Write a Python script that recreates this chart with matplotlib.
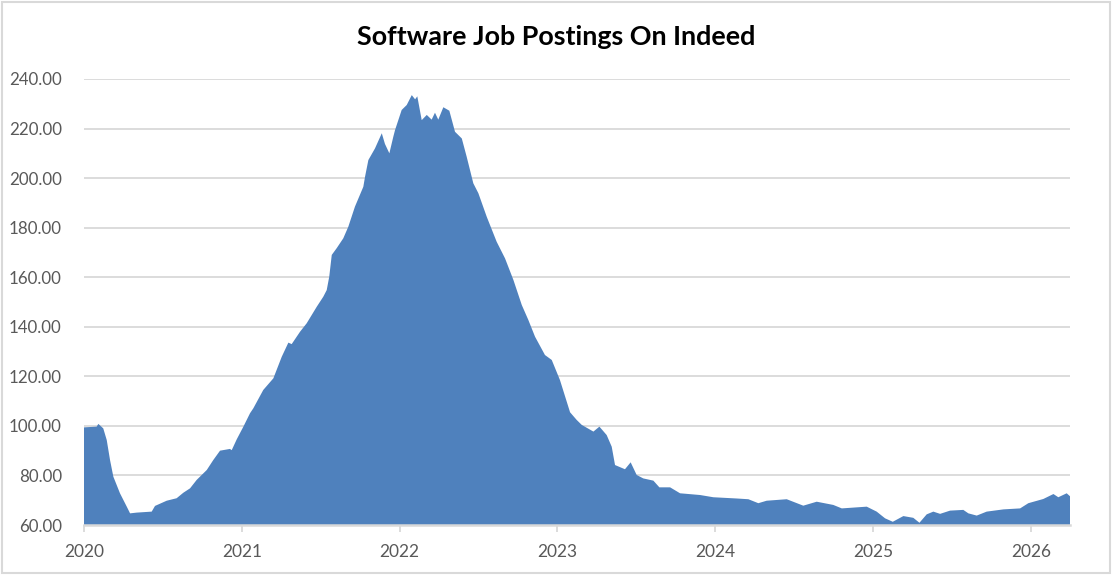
import matplotlib.pyplot as plt
from matplotlib.patches import Rectangle
from matplotlib.ticker import FormatStrFormatter

# decimal years and index values
years = [
    2020.000, 2020.080, 2020.091, 2020.122, 2020.144, 2020.165, 2020.186, 2020.228,
    2020.271, 2020.292, 2020.334, 2020.429, 2020.450, 2020.524, 2020.587, 2020.629,
    2020.672, 2020.714, 2020.778, 2020.819, 2020.862, 2020.925, 2020.936, 2020.968,
    2021.010, 2021.052, 2021.073, 2021.136, 2021.200, 2021.253, 2021.295, 2021.316,
    2021.369, 2021.411, 2021.475, 2021.516, 2021.538, 2021.554, 2021.570, 2021.601,
    2021.643, 2021.675, 2021.717, 2021.770, 2021.781, 2021.802, 2021.844, 2021.887,
    2021.907, 2021.935, 2021.960, 2021.971, 2022.013, 2022.045, 2022.077, 2022.098,
    2022.112, 2022.140, 2022.172, 2022.203, 2022.224, 2022.245, 2022.277, 2022.315,
    2022.351, 2022.394, 2022.425, 2022.467, 2022.499, 2022.552, 2022.615, 2022.668,
    2022.721, 2022.774, 2022.816, 2022.858, 2022.921, 2022.964, 2023.016, 2023.080,
    2023.122, 2023.154, 2023.228, 2023.266, 2023.312, 2023.344, 2023.365, 2023.428,
    2023.464, 2023.502, 2023.544, 2023.608, 2023.646, 2023.714, 2023.777, 2023.904,
    2023.988, 2024.136, 2024.210, 2024.273, 2024.326, 2024.453, 2024.558, 2024.643,
    2024.748, 2024.802, 2024.960, 2025.023, 2025.076, 2025.125, 2025.192, 2025.255,
    2025.294, 2025.340, 2025.382, 2025.425, 2025.488, 2025.572, 2025.604, 2025.657,
    2025.720, 2025.826, 2025.932, 2025.984, 2026.079, 2026.143, 2026.174, 2026.227,
    2026.248,
]
postings = [
    99.4, 99.7, 100.8, 99.0, 94.3, 86.2, 79.5, 72.8,
    67.4, 64.7, 65.0, 65.4, 67.7, 69.8, 70.8, 73.0,
    74.8, 78.2, 82.2, 86.2, 90.0, 90.7, 90.2, 94.6,
    99.7, 105.1, 107.1, 114.5, 119.2, 127.9, 133.6, 133.0,
    138.0, 141.4, 148.1, 152.1, 154.8, 160.2, 169.0, 171.7,
    175.7, 180.4, 188.5, 196.5, 200.6, 207.3, 212.0, 218.1,
    213.8, 210.0, 216.7, 219.4, 227.5, 229.5, 233.5, 231.8,
    233.0, 223.4, 225.5, 223.6, 226.4, 223.6, 228.6, 227.2,
    218.7, 216.0, 208.6, 197.9, 193.9, 184.4, 174.3, 167.6,
    158.9, 148.8, 142.7, 136.0, 128.6, 126.6, 118.5, 105.5,
    102.4, 100.4, 97.7, 99.7, 96.3, 91.6, 84.2, 82.5,
    85.3, 80.2, 78.8, 77.9, 75.2, 75.2, 72.8, 72.1,
    71.2, 70.7, 70.4, 68.8, 69.8, 70.4, 67.8, 69.4,
    68.1, 66.7, 67.4, 65.4, 62.7, 61.3, 63.6, 62.9,
    60.9, 64.3, 65.4, 64.5, 65.8, 66.1, 64.7, 63.8,
    65.4, 66.3, 66.7, 68.8, 70.5, 72.5, 71.2, 72.8,
    71.6,
]
year_ticks = [2020, 2021, 2022, 2023, 2024, 2025, 2026]
y_ticks = [60, 80, 100, 120, 140, 160, 180, 200, 220, 240]

grey_line = '#d9d9d9'
grey_text = '#595959'

plt.rcParams['font.family'] = ['Lato', 'DejaVu Sans']

fig = plt.figure(figsize=(11.13, 5.75), dpi=100)
ax = fig.add_axes([84 / 1113, 50 / 575, 986 / 1113, 446 / 575])

ax.fill_between(years, postings, 0, color='#4f81bd', linewidth=0, zorder=2)

ax.set_xlim(2020, years[-1])
ax.set_ylim(60, 240)
ax.set_yticks(y_ticks)
ax.yaxis.set_major_formatter(FormatStrFormatter('%.2f'))
ax.set_xticks(year_ticks)
ax.set_xticklabels([str(y) for y in year_ticks])

ax.grid(axis='y', color=grey_line, linewidth=1.3, zorder=0)
ax.set_axisbelow(True)
for side in ['left', 'right', 'top']:
    ax.spines[side].set_visible(False)
ax.spines['bottom'].set_color(grey_line)
ax.spines['bottom'].set_linewidth(1.8)
ax.spines['bottom'].set_zorder(3)

ax.tick_params(axis='y', length=0, pad=16, labelsize=12.2, labelcolor=grey_text)
ax.tick_params(axis='x', length=5, width=1.3, color=grey_line, pad=9,
               labelsize=12.5, labelcolor=grey_text)

fig.text(0.5, 1 - 37 / 575, 'Software Job Postings On Indeed', ha='center', va='center',
         fontsize=19.4, fontweight='bold', color='black')

fig.patches.append(Rectangle((0.002, 0.003), 0.995, 0.994, transform=fig.transFigure,
                             fill=False, edgecolor=grey_line, linewidth=1.5))

fig.savefig('out.png', dpi=100)
